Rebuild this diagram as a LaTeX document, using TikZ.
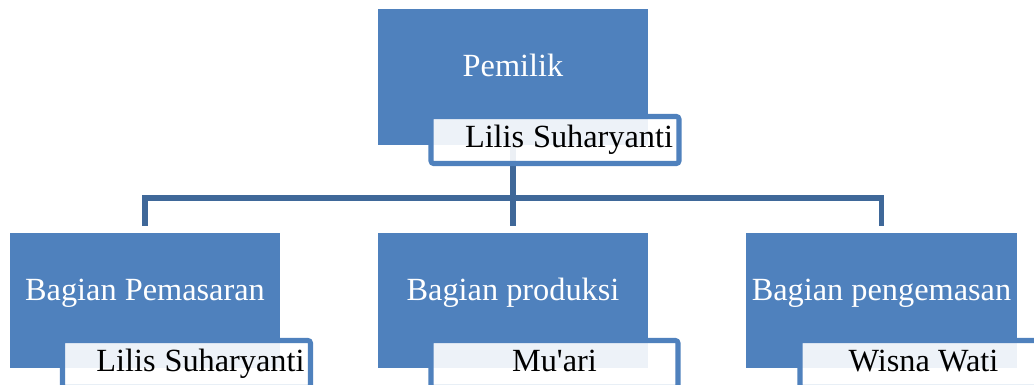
\documentclass[tikz,border=0pt]{standalone}
\usepackage{fontspec}
\setmainfont{Liberation Serif}
\usetikzlibrary{positioning, calc}
\definecolor{boxBlue}{HTML}{4F81BD}
\definecolor{lineBlue}{HTML}{3F6899}
\tikzset{
  unitbox/.style={fill=boxBlue, text=white, minimum width=5.4cm, minimum height=2.71cm,
    text height=13pt, text depth=13pt, font=\fontsize{18.4}{20}\selectfont},
  namecard/.style={draw=boxBlue, line width=2.9pt, fill=white, fill opacity=0.9, text opacity=1,
    rounded corners=1.5pt, minimum width=4.94cm, minimum height=0.94cm,
    text height=13pt, text depth=4pt, font=\fontsize{18.4}{20}\selectfont},
  orgline/.style={lineBlue, line width=3pt},
}
\begin{document}
\begin{tikzpicture}[x=0.02cm, y=-0.02cm]
  \useasboundingbox (0,0) rectangle (1034,385);
  \clip (0,0) rectangle (1034,385);
  % units
  \node[unitbox] (owner) at (513,77) {Pemilik};
  \node[unitbox] (marketing) at (145,300.5) {Bagian Pemasaran};
  \node[unitbox] (production) at (513,300.5) {Bagian produksi};
  \node[unitbox] (packing) at (881.5,300.5) {Bagian pengemasan};
  % connectors
  \coordinate (bus) at (513,198);
  \draw[orgline] (owner.south) -- (bus);
  \foreach \unit in {marketing, production, packing}{
    \draw[orgline, shorten >=0.12cm] (bus) -| (\unit.north);}
  % names
  \node[namecard] (ownerName) at (555,140) {\hspace*{16pt}Lilis\hspace{5pt}Suharyanti};
  \node[namecard] (marketingName) at (186.5,364) {\hspace*{16pt}Lilis\hspace{5pt}Suharyanti};
  \node[namecard] (productionName) at (554.5,364) {Mu\textquotesingle ari};
  \node[namecard] (packingName) at (923.5,364) {Wisna Wati};
\end{tikzpicture}
\end{document}
